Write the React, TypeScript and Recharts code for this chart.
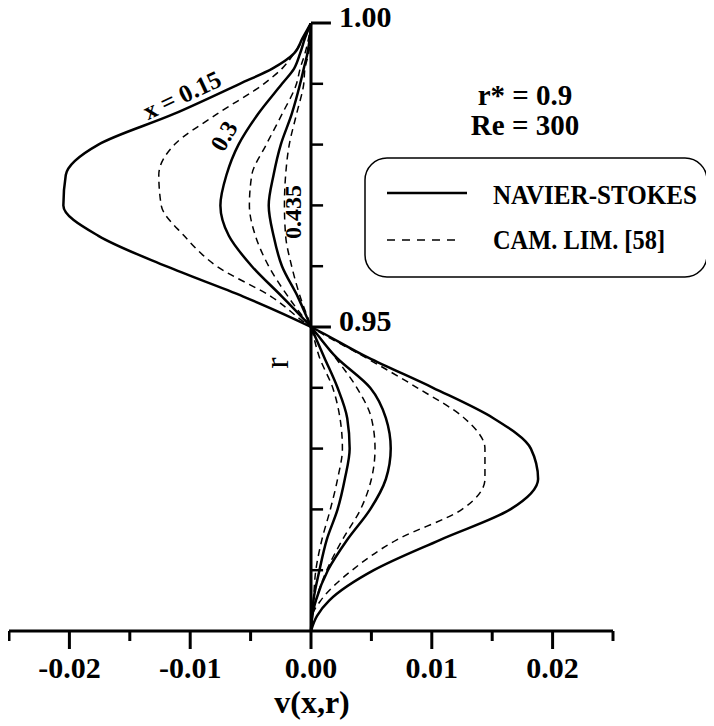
import React from 'react';
import { ComposedChart, Line, XAxis, YAxis, ReferenceLine } from 'recharts';

// radial positions r (shared grid for all profiles)
const rGrid = [1.0, 0.9975, 0.995, 0.9925, 0.99, 0.985, 0.98, 0.975, 0.97, 0.965, 0.96, 0.955, 0.95,
  0.945, 0.94, 0.935, 0.93, 0.925, 0.92, 0.915, 0.91, 0.905, 0.9025, 0.9];

// Navier-Stokes profiles v(x,r)
const nsX015 = [0, -0.0007, -0.0014, -0.0032, -0.0059, -0.0114, -0.0176, -0.0203, -0.0205, -0.0176, -0.012, -0.0056, 0,
  0.0047, 0.0101, 0.0151, 0.0182, 0.0188, 0.0165, 0.0107, 0.0052, 0.0015, 0.0005, 0];
const nsX03 = [0, -0.0005, -0.0009, -0.0014, -0.0024, -0.0044, -0.006, -0.007, -0.0075, -0.0068, -0.0049, -0.0024, 0,
  0.0021, 0.0049, 0.0062, 0.0066, 0.0062, 0.0049, 0.003, 0.0014, 0.0004, 0.0001, 0];
const nsX0435 = [0, -0.0001, -0.0003, -0.0006, -0.0009, -0.0016, -0.0025, -0.0031, -0.0035, -0.0031, -0.0024, -0.0011, 0,
  0.0011, 0.0022, 0.003, 0.0032, 0.0028, 0.0022, 0.0013, 0.0007, 0.0002, 0.0001, 0];

// Camada limite [58] profiles v(x,r)
const clX015 = [0, -0.0006, -0.0014, -0.0024, -0.0039, -0.0078, -0.0113, -0.0126, -0.0124, -0.0105, -0.0078, -0.0033, 0,
  0.0045, 0.0088, 0.0127, 0.0144, 0.0144, 0.0125, 0.0071, 0.0034, 0.0008, 0.0001, 0];
const clX03 = [0, -0.0002, -0.0005, -0.0009, -0.0012, -0.0024, -0.0037, -0.0049, -0.0051, -0.0046, -0.0035, -0.0019, 0,
  0.002, 0.0038, 0.005, 0.0053, 0.005, 0.0041, 0.0026, 0.0013, 0.0004, 0.0001, 0];
const clX0435 = [0, -0.00005, -0.0002, -0.0005, -0.0006, -0.0012, -0.0018, -0.0021, -0.0022, -0.0021, -0.0016, -0.0009, 0,
  0.0007, 0.0018, 0.0024, 0.0026, 0.0022, 0.0016, 0.0009, 0.0004, 0.0002, 0.0001, 0];

// axis ticks
const xMajorTicks = [-0.02, -0.01, 0, 0.01, 0.02];
const xTickLabels = ['-0.02', '-0.01', '0.00', '0.01', '0.02'];
const xMinorTicks = [-0.025, -0.015, -0.005, 0.005, 0.015, 0.025];
const yMajorTicks = [0.95, 1.0];
const yTickLabels = ['0.95', '1.00'];
const yMinorTicks = [0.91, 0.92, 0.93, 0.94, 0.96, 0.97, 0.98, 0.99];

const data = rGrid.map((r, i) => ({
  r,
  ns015: nsX015[i], ns03: nsX03[i], ns0435: nsX0435[i],
  cl015: clX015[i], cl03: clX03[i], cl0435: clX0435[i],
}));

const xTicks = [...xMajorTicks, ...xMinorTicks].sort((a, b) => a - b);

const FONT = '"Liberation Serif", "Times New Roman", serif';
const Y_MAJOR_LEN = 0.00165;
const Y_MINOR_LEN = 0.001;

const XTick = (props: any) => {
  const { x, y, payload } = props;
  const v = payload.value;
  const idx = xMajorTicks.findIndex((t) => Math.abs(t - v) < 1e-9);
  const major = idx >= 0;
  return (
    <g>
      <line x1={x} x2={x} y1={y} y2={y + (major ? 18 : 10)} stroke="#000" strokeWidth={3} />
      {major && (
        <text x={x} y={y + 47} textAnchor="middle" fontFamily={FONT} fontWeight="bold" fontSize={30} fill="#000">
          {xTickLabels[idx]}
        </text>
      )}
    </g>
  );
};

const makeYLabel = (text: string) => (p: any) => {
  const vb = p.viewBox || {};
  const x = (vb.x ?? 0) + (vb.width ?? 0) + 8;
  const y = (vb.y ?? 0) + 4;
  return (
    <text x={x} y={y} fontFamily={FONT} fontWeight="bold" fontSize={30} fill="#000">
      {text}
    </text>
  );
};

const solid = { stroke: '#000', strokeWidth: 2.5 };
const dashed = { stroke: '#000', strokeWidth: 1.5, strokeDasharray: '7 5' };

export default function App() {
  return (
    <div style={{ position: 'relative', width: 714, height: 726, marginLeft: -8, marginTop: -8 }}>
      <ComposedChart
        width={714}
        height={726}
        data={data}
        layout="vertical"
        margin={{ top: 23, right: 101, bottom: 55, left: 9 }}
      >
        <XAxis
          type="number"
          domain={[-0.025, 0.025]}
          allowDataOverflow
          ticks={xTicks}
          interval={0}
          height={40}
          tickSize={0}
          tickMargin={0}
          tickLine={false}
          axisLine={{ stroke: '#000', strokeWidth: 3 }}
          tick={<XTick />}
        />
        <YAxis type="number" dataKey="r" domain={[0.9, 1.0]} allowDataOverflow reversed hide />
        <ReferenceLine x={0} stroke="#000" strokeWidth={3} />
        {yMinorTicks.map((t) => (
          <ReferenceLine key={'m' + t} segment={[{ x: 0, y: t }, { x: Y_MINOR_LEN, y: t }]} stroke="#000" strokeWidth={2.5} />
        ))}
        {yMajorTicks.map((t, i) => (
          <ReferenceLine
            key={'M' + t}
            segment={[{ x: 0, y: t }, { x: Y_MAJOR_LEN, y: t }]}
            stroke="#000"
            strokeWidth={3}
            label={makeYLabel(yTickLabels[i])}
          />
        ))}
        <Line dataKey="ns015" type="monotone" {...solid} dot={false} isAnimationActive={false} />
        <Line dataKey="ns03" type="monotone" {...solid} dot={false} isAnimationActive={false} />
        <Line dataKey="ns0435" type="monotone" {...solid} dot={false} isAnimationActive={false} />
        <Line dataKey="cl015" type="monotone" {...dashed} dot={false} isAnimationActive={false} />
        <Line dataKey="cl03" type="monotone" {...dashed} dot={false} isAnimationActive={false} />
        <Line dataKey="cl0435" type="monotone" {...dashed} dot={false} isAnimationActive={false} />
      </ComposedChart>
      <svg
        width={714}
        height={726}
        style={{ position: 'absolute', left: 0, top: 0, pointerEvents: 'none' }}
      >
        <g fontFamily={FONT} fill="#000">
          <text x={525} y={105} textAnchor="middle" fontWeight="bold" fontSize={29}>r* = 0.9</text>
          <text x={525} y={135} textAnchor="middle" fontWeight="bold" fontSize={29}>Re = 300</text>
          <rect x={365} y={158} width={342} height={119} rx={22} ry={22} fill="none" stroke="#000" strokeWidth={1.5} />
          <line x1={387} x2={467} y1={193} y2={193} stroke="#000" strokeWidth={2.5} />
          <text x={493} y={204} fontWeight="bold" fontSize={27} textLength={204} lengthAdjust="spacingAndGlyphs">NAVIER-STOKES</text>
          <line x1={387} x2={460} y1={240} y2={240} stroke="#000" strokeWidth={1.5} strokeDasharray="8 7" />
          <text x={493} y={249} fontWeight="bold" fontSize={27} textLength={172} lengthAdjust="spacingAndGlyphs">CAM. LIM. [58]</text>
          <text x={182} y={95} textAnchor="middle" dominantBaseline="central" fontWeight="bold" fontSize={25} transform="rotate(-25 182 95)">x = 0.15</text>
          <text x={224} y={136} textAnchor="middle" dominantBaseline="central" fontWeight="bold" fontSize={24} transform="rotate(-60 224 136)">0.3</text>
          <text x={293} y={212} textAnchor="middle" dominantBaseline="central" fontWeight="bold" fontSize={24} transform="rotate(-90 293 212)">0.435</text>
          <text x={276} y={363} textAnchor="middle" dominantBaseline="central" fontSize={34} transform="rotate(-90 276 363)">r</text>
          <text x={312} y={713} textAnchor="middle" fontWeight="bold" fontSize={32}>v(x,r)</text>
        </g>
      </svg>
    </div>
  );
}
